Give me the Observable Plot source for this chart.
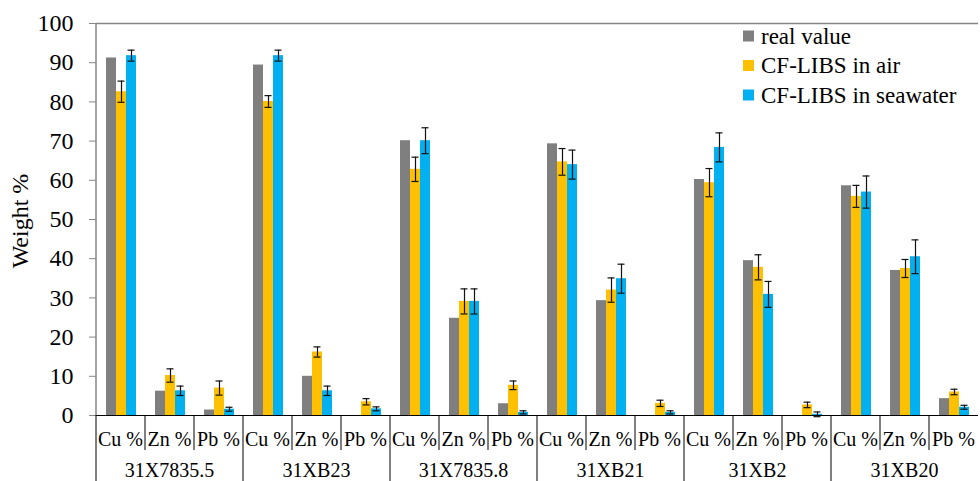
<!DOCTYPE html>
<html>
<head>
<meta charset="utf-8">
<script src="https://cdn.jsdelivr.net/npm/d3@7"></script>
<script src="https://cdn.jsdelivr.net/npm/@observablehq/plot@0.6"></script>
<style>
  body { margin: 0; background: #fff; }
  #chart { width: 980px; height: 481px; overflow: hidden; }
</style>
</head>
<body>
<div id="chart"></div>
<script>
// Samples and the three elements measured in each
const samples = ["31X7835.5", "31XB23", "31X7835.8", "31XB21", "31XB2", "31XB20"];
const elements = ["Cu %", "Zn %", "Pb %"];
const series = ["real value", "CF-LIBS in air", "CF-LIBS in seawater"];
const colors = ["#7F7F7F", "#FFC000", "#00B0F0"];
const yTicks = [0, 10, 20, 30, 40, 50, 60, 70, 80, 90, 100];

// Weight % per sample, in element order Cu, Zn, Pb
const realValue = [
  91.2, 6.2, 1.4,
  89.4, 10.0, 0,
  70.1, 24.8, 3.0,
  69.3, 29.3, 0,
  60.2, 39.5, 0,
  58.6, 37.0, 4.3
];
const airValue = [
  82.6, 10.2, 7.0,
  80.1, 16.2, 3.5,
  62.8, 29.1, 7.7,
  64.7, 32.0, 3.1,
  59.4, 37.8, 2.7,
  55.9, 37.5, 6.0
];
const airError = [
  2.7, 1.7, 1.8,
  1.5, 1.3, 0.8,
  3.1, 3.2, 1.1,
  3.4, 3.1, 0.8,
  3.6, 3.2, 0.7,
  2.8, 2.3, 0.7
];
const seawaterValue = [
  91.8, 6.3, 1.6,
  91.8, 6.3, 1.7,
  70.1, 29.1, 0.8,
  64.0, 34.9, 0.8,
  68.4, 30.9, 0.3,
  57.0, 40.5, 2.1
];
const seawaterError = [
  1.4, 1.2, 0.5,
  1.4, 1.2, 0.5,
  3.3, 3.2, 0.4,
  3.7, 3.7, 0.4,
  3.7, 3.3, 0.6,
  4.1, 4.3, 0.5
];

// Long-format table: one row per bar
const keys = samples.flatMap(s => elements.map(e => s + "|" + e));
const rows = [];
samples.forEach((s, i) => elements.forEach((e, j) => {
  const k = i * 3 + j;
  const key = s + "|" + e;
  rows.push({key, series: series[0], value: realValue[k], err: null});
  rows.push({key, series: series[1], value: airValue[k], err: airError[k]});
  rows.push({key, series: series[2], value: seawaterValue[k], err: seawaterError[k]});
}));
const withErr = rows.filter(d => d.err != null);

const font = "Liberation Serif";
const axisGray = "#868686";

const chart = Plot.plot({
  width: 980,
  height: 481,
  marginLeft: 93,
  marginRight: 0,
  marginTop: 23,
  marginBottom: 66,
  style: "font-family: 'Liberation Serif', serif; font-size: 20px; color: #000; background: #fff; overflow: visible;",
  fx: {domain: keys, padding: 0, axis: null},
  x: {domain: series, paddingInner: 0, paddingOuter: 0.74, axis: null},
  y: {domain: [0, 100]},
  color: {domain: series, range: colors},
  marks: [
    Plot.ruleY([100], {stroke: axisGray, strokeWidth: 1.5}),
    Plot.barY(rows, {fx: "key", x: "series", y: "value", fill: "series"}),
    Plot.ruleX(withErr, {fx: "key", x: "series", y1: d => d.value - d.err, y2: d => d.value + d.err, stroke: "#111", strokeWidth: 1.2}),
    Plot.tickY(withErr, {fx: "key", x: "series", y: d => d.value + d.err, insetLeft: 1.5, insetRight: 1.5, stroke: "#111", strokeWidth: 1.2}),
    Plot.tickY(withErr, {fx: "key", x: "series", y: d => d.value - d.err, insetLeft: 1.5, insetRight: 1.5, stroke: "#111", strokeWidth: 1.2}),
    Plot.ruleY([0], {stroke: "#000", strokeWidth: 1.2}),
    Plot.axisY({ticks: yTicks, tickSize: 7, tickPadding: 16, fontSize: 24, fontFamily: font, stroke: axisGray, label: null})
  ]
});

document.getElementById("chart").appendChild(chart);

// Axis line, slot separators, category labels, y title and legend
const svg = d3.select(chart);
const fx = chart.scale("fx");
const y = chart.scale("y");
const y0 = y.apply(0);
const yTop = y.apply(100);
const bw = fx.bandwidth;
const left = fx.apply(keys[0]);

svg.append("line")
  .attr("x1", left).attr("x2", left).attr("y1", yTop).attr("y2", y0)
  .attr("stroke", axisGray).attr("stroke-width", 1.5);

const labels = svg.append("g")
  .attr("font-family", font).attr("fill", "#000").attr("text-anchor", "middle");

keys.forEach((k, i) => {
  const xk = fx.apply(k);
  svg.append("line")
    .attr("x1", xk).attr("x2", xk)
    .attr("y1", y0).attr("y2", i % 3 === 0 ? 481 : y0 + 35)
    .attr("stroke", "#000").attr("stroke-width", 1);
  labels.append("text")
    .attr("x", xk + bw / 2).attr("y", y0 + 30.5)
    .attr("font-size", 20)
    .text(k.split("|")[1]);
});

samples.forEach((s, i) => {
  const xs = fx.apply(keys[i * 3 + 1]) + bw / 2;
  labels.append("text")
    .attr("x", xs).attr("y", y0 + 61.5)
    .attr("font-size", 20)
    .text(s);
});

svg.append("text")
  .attr("transform", `translate(20,${(yTop + y0) / 2 + 2}) rotate(-90)`)
  .attr("text-anchor", "middle")
  .attr("dy", "0.33em")
  .attr("font-family", font)
  .attr("font-size", 24)
  .attr("fill", "#000")
  .text("Weight %");

const color = chart.scale("color");
const legend = svg.append("g").attr("transform", "translate(743,36)");
series.forEach((s, i) => {
  const g = legend.append("g").attr("transform", `translate(0,${i * 29.5})`);
  g.append("rect").attr("x", 0).attr("y", -5.5).attr("width", 11).attr("height", 11)
    .attr("fill", color.apply(s));
  g.append("text").attr("x", 18).attr("y", 0).attr("dy", "0.33em")
    .attr("text-anchor", "start")
    .attr("font-family", font).attr("font-size", 23).attr("fill", "#000")
    .text(s);
});
</script>
</body>
</html>
